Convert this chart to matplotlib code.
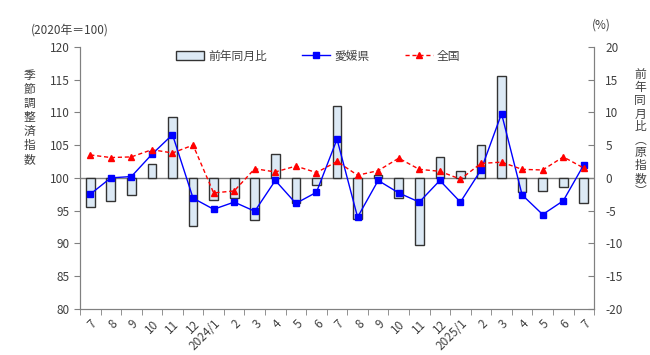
import matplotlib
matplotlib.use('Agg')
from matplotlib import pyplot as plt
import numpy as np

plt.rcParams['font.family'] = ['Noto Sans CJK JP', 'DejaVu Sans']
plt.rcParams['axes.unicode_minus'] = False

# 月ラベル
months = ['7', '8', '9', '10', '11', '12', '2024/1', '2', '3', '4', '5', '6',
          '7', '8', '9', '10', '11', '12', '2025/1', '2', '3', '4', '5', '6', '7']
# 前年同月比(原指数, %)
yoy = [-4.5, -3.6, -2.6, 2.1, 9.3, -7.4, -3.4, -3.1, -6.5, 3.6, -3.9, -1.1,
       10.9, -6.3, 0.5, -3.0, -10.3, 3.2, 1.1, 5.0, 15.6, -2.2, -2.0, -1.4, -3.9]
# 愛媛県 季節調整済指数
ehime = [97.5, 100.0, 100.2, 103.6, 106.6, 96.9, 95.2, 96.3, 94.9, 99.6, 96.1, 97.8,
         105.9, 94.0, 99.6, 97.7, 96.3, 99.6, 96.3, 101.2, 109.8, 97.4, 94.4, 96.5, 102.0]
# 全国 季節調整済指数
zenkoku = [103.5, 103.1, 103.2, 104.3, 103.8, 105.0, 97.7, 98.0, 101.4, 100.9, 101.8, 100.8,
           102.5, 100.4, 101.1, 103.0, 101.3, 101.0, 99.8, 102.2, 102.4, 101.3, 101.2, 103.2, 101.5]

txt = '#404040'
grid = '#808080'
x = np.arange(len(months))

fig = plt.figure(figsize=(6.5, 3.55), dpi=100)
ax = fig.add_axes([0.123, 0.130, 0.791, 0.738])
ax2 = ax.twinx()

# 棒グラフ(右軸)
bars = ax2.bar(x, yoy, width=0.42, color='#dce9f5', edgecolor='#333333', linewidth=1.0,
               label='前年同月比', zorder=2)
ax2.axhline(0, color=grid, linewidth=1.0, zorder=1)
ax2.set_ylim(-20, 20)
ax2.set_yticks(range(-20, 21, 5))

# 折れ線(左軸)
ax.set_zorder(ax2.get_zorder() + 1)
ax.patch.set_visible(False)
l1, = ax.plot(x, ehime, color='#0000ff', linewidth=1.0, marker='s', markersize=4.5,
              label='愛媛県')
l2, = ax.plot(x, zenkoku, color='#ff0000', linewidth=1.0, linestyle=(0, (3, 2)),
              marker='^', markersize=5, label='全国')
ax.set_ylim(80, 120)
ax.set_yticks(range(80, 121, 5))
ax.set_xlim(-0.5, len(months) - 0.5)

ax.set_xticks(x)
ax.set_xticklabels(months, rotation=45, ha='right', rotation_mode='anchor')
ax.set_xticks(np.arange(-0.5, len(months), 1.0), minor=True)
ax.tick_params(axis='x', which='major', length=0, labelsize=8.5, labelcolor=txt, pad=6)
ax.tick_params(axis='x', which='minor', length=4, color=grid, direction='out')
ax.tick_params(axis='y', length=4, color=grid, labelsize=8.5, labelcolor=txt, direction='out')
ax2.tick_params(axis='y', length=4, color=grid, labelsize=8.5, labelcolor=txt, direction='in', pad=8)

for a in (ax, ax2):
    a.spines['top'].set_visible(False)
    for s in ('left', 'right', 'bottom'):
        a.spines[s].set_color(grid)

ax.legend([bars, l1, l2], ['前年同月比', '愛媛県', '全国'], ncol=3, frameon=False,
          loc='upper center', bbox_to_anchor=(0.463, 1.03), fontsize=8.5,
          labelcolor=txt, columnspacing=3.0, handlelength=2.4, handletextpad=0.3)

fig.text(0.108, 0.915, '(2020年＝100)', ha='center', va='center', fontsize=8.5, color=txt)
fig.text(0.925, 0.93, '(%)', ha='center', va='center', fontsize=8.5, color=txt)
fig.text(0.046, 0.669, '\n'.join('季節調整済指数'), ha='center', va='center',
         fontsize=8.5, color=txt, linespacing=1.1)
fig.text(0.985, 0.624, '\n'.join('前年同月比︵原指数︶'), ha='center', va='center',
         fontsize=8.5, color=txt, linespacing=1.0)

fig.savefig('out.png', dpi=100)
